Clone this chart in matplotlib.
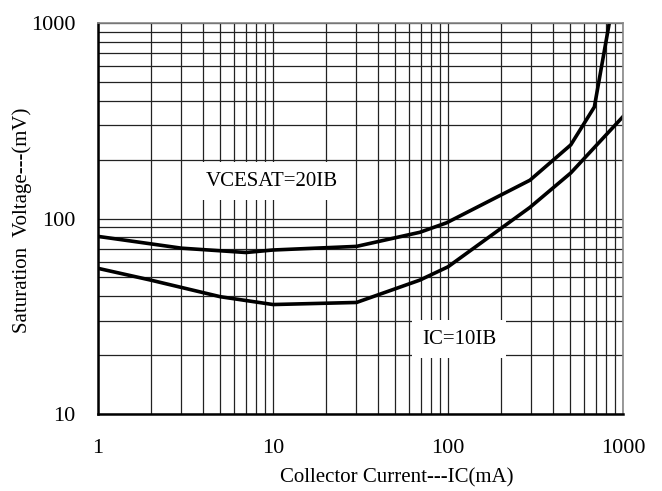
import numpy as np
import matplotlib
matplotlib.use('Agg')
import matplotlib.pyplot as plt
from matplotlib.ticker import LogLocator, NullFormatter, FixedLocator

plt.rcParams['font.family'] = ['Liberation Serif', 'DejaVu Serif']

# VCESAT = 20 IB
ic_20 = [1, 3, 7, 10, 30, 69, 98, 294, 503, 686, 835]
v_20 = [81, 70.5, 67, 69, 72, 85, 95, 157, 238, 372, 1000]
# IC = 10 IB
ic_10 = [1, 2, 5, 10, 30, 69, 100, 294, 503, 1000]
v_10 = [55.6, 48.4, 39.8, 36.3, 37.2, 48.4, 56.6, 114, 171, 332]

x_ticks = [1, 10, 100, 1000]
y_ticks = [10, 100, 1000]

fig = plt.figure(figsize=(6.62, 4.91), dpi=100)
ax = fig.add_axes([98 / 662, 1 - 414 / 491, 525 / 662, 391 / 491])
ax.set_xscale('log')
ax.set_yscale('log')
ax.set_xlim(1, 1000)
ax.set_ylim(10, 1000)

ax.grid(True, which='both', color='#222222', lw=0.9)
ax.plot(ic_20, v_20, color='black', lw=2.6, solid_joinstyle='miter')
ax.plot(ic_10, v_10, color='black', lw=2.6, solid_joinstyle='miter')

ax.xaxis.set_major_locator(FixedLocator(x_ticks))
ax.yaxis.set_major_locator(FixedLocator(y_ticks))
ax.set_xticklabels([str(t) for t in x_ticks])
ax.set_yticklabels([str(t) for t in y_ticks])
ax.xaxis.set_minor_locator(LogLocator(base=10, subs=np.arange(2, 10)))
ax.yaxis.set_minor_locator(LogLocator(base=10, subs=np.arange(2, 10)))
ax.xaxis.set_minor_formatter(NullFormatter())
ax.yaxis.set_minor_formatter(NullFormatter())
ax.tick_params(which='both', length=0)
ax.tick_params(axis='x', labelsize=16, pad=18)
ax.tick_params(axis='y', labelsize=16, pad=16)

for s in ['top', 'right']:
    ax.spines[s].set_color('#888888')
    ax.spines[s].set_linewidth(1.2)
for s in ['left', 'bottom']:
    ax.spines[s].set_color('black')
    ax.spines[s].set_linewidth(1.8)

def px(x, y):
    return fig.transFigure.inverted().transform((x, 491 - y))

# curve labels with white boxes over the grid
fig.text(*px(272, 181), 'VCESAT=20IB', fontsize=15, ha='center', va='center',
         bbox=dict(facecolor='white', edgecolor='none', pad=7))
fig.text(*px(459, 339), 'IC=10IB', fontsize=15, ha='center', va='center',
         bbox=dict(facecolor='white', edgecolor='none', pad=7))

fig.text(*px(397, 478), 'Collector Current---IC(mA)', fontsize=15, ha='center', va='center')
fig.text(*px(22, 220), 'Saturation  Voltage---(mV)', fontsize=15, ha='center', va='center',
         rotation=90)

fig.savefig('out.png', dpi=100)
